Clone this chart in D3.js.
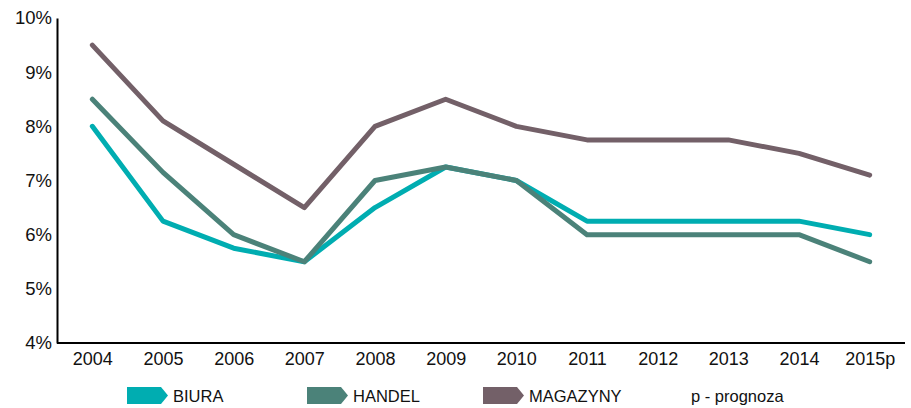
<!DOCTYPE html>
<html>
<head>
<meta charset="utf-8">
<script src="https://cdn.jsdelivr.net/npm/d3@7"></script>
<style>
  html, body { margin: 0; padding: 0; background: #fff; }
  svg { display: block; font-family: "Liberation Sans", Arial, Helvetica, sans-serif; }
</style>
</head>
<body>
<svg id="chart" width="911" height="408"></svg>
<script>
// Yields (%) by year, 2015 is a forecast
const years = ["2004", "2005", "2006", "2007", "2008", "2009", "2010", "2011", "2012", "2013", "2014", "2015p"];
const biura    = [8.0, 6.25, 5.75, 5.5, 6.5, 7.25, 7.0, 6.25, 6.25, 6.25, 6.25, 6.0];
const handel   = [8.5, 7.15, 6.0, 5.5, 7.0, 7.25, 7.0, 6.0, 6.0, 6.0, 6.0, 5.5];
const magazyny = [9.5, 8.1, 7.3, 6.5, 8.0, 8.5, 8.0, 7.75, 7.75, 7.75, 7.5, 7.1];
const yTicks = [4, 5, 6, 7, 8, 9, 10];
const seriesNames = ["BIURA", "HANDEL", "MAGAZYNY"];
const seriesColors = ["#00adb1", "#4b8279", "#736068"];
const note = "p - prognoza";

(function () {
  const series = [
    { name: seriesNames[0], values: biura, color: seriesColors[0] },
    { name: seriesNames[1], values: handel, color: seriesColors[1] },
    { name: seriesNames[2], values: magazyny, color: seriesColors[2] }
  ];

  const svg = d3.select("#chart");
  const m = { left: 57, right: 905, top: 18, bottom: 343 };

  const x = d3.scalePoint().domain(years).range([m.left, m.right]).padding(0.5);
  const y = d3.scaleLinear().domain([4, 10]).range([m.bottom, m.top]);

  // Y axis
  const yAxis = svg.append("g")
    .attr("transform", `translate(${m.left},0)`)
    .call(d3.axisLeft(y).tickValues(yTicks).tickSize(0).tickPadding(5).tickFormat(d => d + "%"));
  yAxis.select(".domain").attr("stroke", "#000").attr("stroke-width", 2);
  yAxis.selectAll("text").attr("font-size", 18.5).attr("fill", "#111");

  // X axis
  const xAxis = svg.append("g")
    .attr("transform", `translate(0,${m.bottom})`)
    .call(d3.axisBottom(x).tickSize(0).tickPadding(9));
  xAxis.select(".domain").attr("stroke", "#000").attr("stroke-width", 2)
    .attr("d", `M${m.left},0H${m.right}`);
  xAxis.selectAll("text").attr("font-size", 18).attr("fill", "#111");

  // Lines
  const line = d3.line()
    .x((d, i) => x(years[i]))
    .y(d => y(d));

  svg.append("g").selectAll("path")
    .data(series)
    .join("path")
    .attr("d", d => line(d.values))
    .attr("fill", "none")
    .attr("stroke", d => d.color)
    .attr("stroke-width", 5)
    .attr("stroke-linejoin", "round")
    .attr("stroke-linecap", "round");

  // Legend with arrow-shaped swatches
  const legendX = [127, 307, 483];
  const lg = svg.append("g");
  series.forEach((s, i) => {
    const g = lg.append("g").attr("transform", `translate(${legendX[i]},387)`);
    g.append("path")
      .attr("d", "M0,0H34L41,8.5L34,17H0Z")
      .attr("fill", s.color);
    g.append("text")
      .attr("x", 46).attr("y", 14.5)
      .attr("font-size", 16.5).attr("fill", "#111")
      .text(s.name);
  });
  lg.append("text")
    .attr("x", 691).attr("y", 401.5)
    .attr("font-size", 16.5).attr("fill", "#111")
    .text(note);
})();
</script>
</body>
</html>
